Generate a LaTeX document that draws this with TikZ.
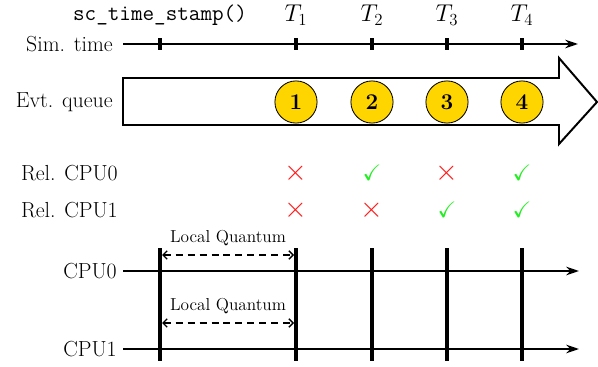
\documentclass[tikz,border=0pt]{standalone}
\usepackage{amsmath,amssymb}
\usepackage{tikz}
\usepackage{xcolor}
\usetikzlibrary{arrows.meta,positioning}
\definecolor{evtgold}{HTML}{FFD500}
\definecolor{relred}{HTML}{FF1A1A}
\definecolor{relgreen}{HTML}{22EE22}

\begin{document}
\begin{tikzpicture}[
      x=0.025cm,y=-0.025cm,
      >={Stealth[length=9pt,width=6pt]},
      lbl/.style={font=\fontsize{15.5}{18}\selectfont,anchor=east,inner sep=0pt},
      tlabel/.style={font=\fontsize{16.5}{19}\selectfont,inner sep=0pt},
      tick/.style={fill=black,inner sep=0pt,minimum width=2.2pt,minimum height=9pt},
      evt/.style={circle,draw,line width=0.6pt,fill=evtgold,minimum size=30pt,inner sep=0pt,font=\fontsize{16}{18}\selectfont\bfseries},
      nope/.style={text=relred,font=\fontsize{22}{24}\selectfont,inner sep=0pt},
      okay/.style={text=relgreen,font=\fontsize{16}{18}\selectfont,inner sep=0pt},
      bar/.style={line width=3.3pt},
      quantum/.style={dashed,line width=1pt,dash pattern=on 5pt off 3.5pt,{Straight Barb[length=3pt,width=6pt]}-{Straight Barb[length=3pt,width=6pt]}},
      qlabel/.style={font=\fontsize{12.3}{14}\selectfont,inner sep=0pt}
    ]
    \useasboundingbox (0,0) rectangle (598,367);

    % simulation time axis
    \node[lbl] (simlbl) at (113,44) {Sim. time};
    \coordinate (simstart) at (123,44);
    \coordinate (simend) at (578,44);
    \draw[line width=1.4pt,->] (simstart) -- (simend);
    \foreach \x/\n in {160/0,296/1,372/2,447/3,522/4}
      \node[tick] (tk\n) at (\x,44) {};
    \node[tlabel,font=\fontsize{16}{18}\selectfont\ttfamily] (stamp) at (160,15) {sc\_time\_stamp()};
    \foreach \x/\n in {296/1,372/2,447/3,522/4}
      \node[tlabel] (T\n) at (\x,15) {$T_\n$};

    % event queue
    \node[lbl] (qlbl) at (113,102) {Evt. queue};
    \draw[line width=1.4pt,line join=miter] (123,78) -- (559,78) -- (559,58) -- (597,102)
      -- (559,144) -- (559,125) -- (123,125) -- cycle;
    \foreach \x/\n in {296/1,372/2,447/3,522/4}
      \node[evt] (e\n) at (\x,102) {\n};

    % release flags
    \node[lbl] (rel0) at (118,173) {Rel. CPU0};
    \node[lbl] (rel1) at (118,210) {Rel. CPU1};
    \node[nope] (r01) at (296,173) {$\times$};
    \node[okay] (r02) at (372,173) {$\checkmark$};
    \node[nope] (r03) at (447,173) {$\times$};
    \node[okay] (r04) at (522,173) {$\checkmark$};
    \node[nope] (r11) at (296,210) {$\times$};
    \node[nope] (r12) at (372,210) {$\times$};
    \node[okay] (r13) at (447,210) {$\checkmark$};
    \node[okay] (r14) at (522,210) {$\checkmark$};

    % cpu timelines
    \node[lbl] (cpu0) at (117,271) {CPU0};
    \node[lbl] (cpu1) at (117,349) {CPU1};
    \coordinate (c0s) at (123,271);
    \coordinate (c0e) at (579,271);
    \coordinate (c1s) at (123,349);
    \coordinate (c1e) at (579,349);
    \draw[line width=2.1pt,->] (c0s) -- (c0e);
    \draw[line width=2.1pt,->] (c1s) -- (c1e);
    \foreach \x in {160,296,372,447,522}
      \draw[bar] (\x,248) -- (\x,361);

    % local quantum
    \coordinate (q0a) at (162,255);
    \coordinate (q0b) at (294,255);
    \coordinate (q1a) at (162,323);
    \coordinate (q1b) at (294,323);
    \draw[quantum] (q0a) -- (q0b) node[qlabel,midway,above=6pt] (lq0) {Local Quantum};
    \draw[quantum] (q1a) -- (q1b) node[qlabel,midway,above=6pt] (lq1) {Local Quantum};
  \end{tikzpicture}
\end{document}
